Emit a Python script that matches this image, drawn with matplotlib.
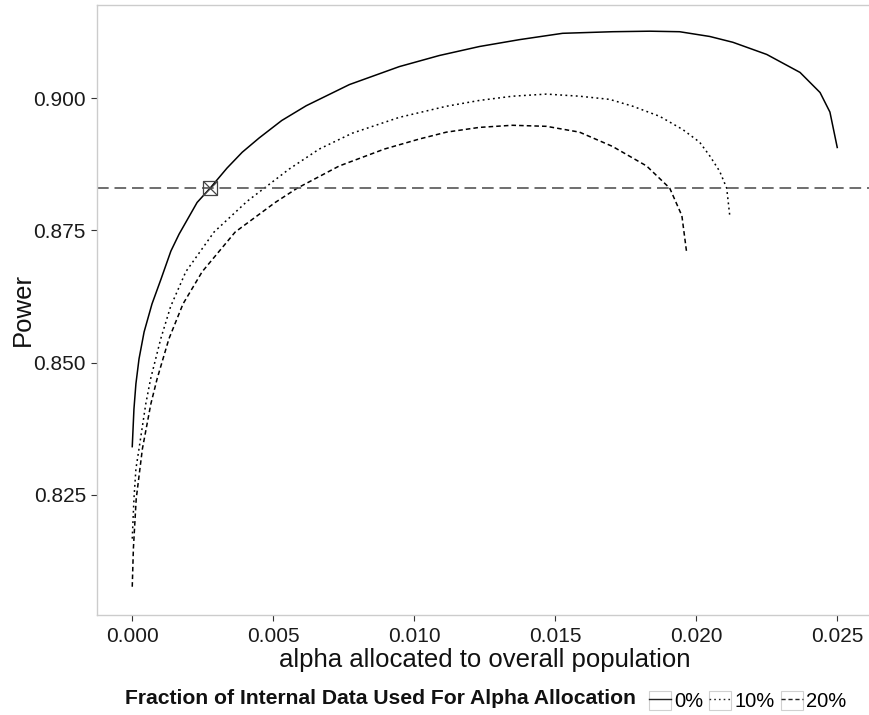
import matplotlib
matplotlib.use("Agg")
import matplotlib.pyplot as plt
from matplotlib.legend_handler import HandlerLine2D
from matplotlib.lines import Line2D
from matplotlib.patches import Rectangle

# data
alpha_0 = [0.0, 0.00006, 0.00013, 0.00024, 0.00042, 0.00070, 0.00102, 0.00137,
           0.00166, 0.00230, 0.00276, 0.00336, 0.00390, 0.00450, 0.00530, 0.00617,
           0.00770, 0.00947, 0.01089, 0.01231, 0.01373, 0.01526, 0.01703, 0.01835,
           0.01941, 0.02048, 0.02130, 0.02250, 0.02368, 0.02439, 0.02474, 0.02500]
power_0 = [0.8341, 0.8412, 0.8460, 0.8507, 0.8558, 0.8611, 0.8658, 0.8711,
           0.8743, 0.8803, 0.8830, 0.8868, 0.8898, 0.8925, 0.8958, 0.8986,
           0.9026, 0.9060, 0.9081, 0.9098, 0.9111, 0.9123, 0.9126, 0.9127,
           0.9126, 0.9117, 0.9106, 0.9083, 0.9049, 0.9011, 0.8974, 0.8907]

alpha_10 = [0.0, 0.00006, 0.00013, 0.00024, 0.00048, 0.00065, 0.00101, 0.00136,
            0.00190, 0.00290, 0.00407, 0.00468, 0.00556, 0.00663, 0.00780, 0.00947,
            0.01114, 0.01231, 0.01348, 0.01469, 0.01586, 0.01693, 0.01775, 0.01870,
            0.01952, 0.02012, 0.02048, 0.02083, 0.02108, 0.02119]
power_10 = [0.8167, 0.8242, 0.8299, 0.8337, 0.8422, 0.8469, 0.8545, 0.8606,
            0.8672, 0.8747, 0.8805, 0.8830, 0.8866, 0.8904, 0.8934, 0.8964,
            0.8985, 0.8996, 0.9004, 0.9008, 0.9004, 0.8998, 0.8985, 0.8966,
            0.8941, 0.8917, 0.8891, 0.8862, 0.8830, 0.8777]

alpha_20 = [0.0, 0.00004, 0.00014, 0.00036, 0.00066, 0.00088, 0.00130, 0.00180,
            0.00248, 0.00365, 0.00507, 0.00585, 0.00734, 0.00894, 0.01018, 0.01114,
            0.01231, 0.01348, 0.01469, 0.01586, 0.01703, 0.01824, 0.01906, 0.01949,
            0.01966]
power_20 = [0.8076, 0.8148, 0.8242, 0.8337, 0.8422, 0.8469, 0.8545, 0.8611,
            0.8672, 0.8747, 0.8803, 0.8830, 0.8872, 0.8904, 0.8923, 0.8936,
            0.8945, 0.8949, 0.8947, 0.8936, 0.8909, 0.8872, 0.8830, 0.8778,
            0.8708]

labels = ["0%", "10%", "20%"]
threshold = 0.8830
marker_alpha = 0.00276
x_ticks = [0.000, 0.005, 0.010, 0.015, 0.020, 0.025]
y_ticks = [0.825, 0.850, 0.875, 0.900]


class BoxedLine(HandlerLine2D):
    # ggplot-like legend key: grey box behind the line sample
    def create_artists(self, legend, orig_handle, xdescent, ydescent, width, height, fontsize, trans):
        arts = super().create_artists(legend, orig_handle, xdescent, ydescent, width, height, fontsize, trans)
        box = Rectangle((-xdescent, -ydescent), width, height, facecolor="white",
                        edgecolor="#d0d0d0", linewidth=0.8, transform=trans)
        return [box] + list(arts)


def main() -> None:
    plt.rcParams["font.family"] = ["Liberation Sans", "DejaVu Sans"]
    fig = plt.figure(figsize=(8.7, 7.15), dpi=100)
    W, H = 870, 715
    ax = fig.add_axes([97 / W, 100 / H, (872.5 - 97) / W, (615 - 4.5) / H])

    styles = ["-", (0, (1.2, 2.2)), (0, (3, 2))]
    series = [(alpha_0, power_0), (alpha_10, power_10), (alpha_20, power_20)]
    handles = []
    for (xs, ys), ls, lab in zip(series, styles, labels):
        ax.plot(xs, ys, color="black", linewidth=1.1, linestyle=ls, label=lab)
        handles.append(Line2D([], [], color="#222222", linewidth=1.0, linestyle=ls))

    ax.axhline(threshold, color="#555555", linewidth=1.2, linestyle=(0, (7, 3.5)))
    ax.plot([marker_alpha], [threshold], marker="s", markersize=10.5,
            markerfacecolor="none", markeredgecolor="#444444", markeredgewidth=0.9)
    ax.plot([marker_alpha], [threshold], marker="x", markersize=10.5,
            markeredgecolor="#444444", markeredgewidth=0.9)

    ax.set_xlim(-0.00125, 0.02625)
    ax.set_ylim(0.80225, 0.91775)
    ax.set_xticks(x_ticks)
    ax.set_xticklabels([f"{v:.3f}" for v in x_ticks])
    ax.set_yticks(y_ticks)
    ax.set_yticklabels([f"{v:.3f}" for v in y_ticks])
    ax.tick_params(direction="out", length=4, width=0.8, color="#333333",
                   labelsize=15, labelcolor="#1a1a1a")
    ax.tick_params(axis="x", pad=5)
    ax.tick_params(axis="y", pad=4)
    for sp in ax.spines.values():
        sp.set_color("#cccccc")
        sp.set_linewidth(1.0)

    ax.set_xlabel("alpha allocated to overall population", fontsize=18.5, color="#111111")
    ax.set_ylabel("Power", fontsize=18.5, color="#111111")
    ax.xaxis.set_label_coords(0.5, -0.054)
    ax.yaxis.set_label_coords(-0.080, 0.5)

    fig.text(125 / W, 1 - 699 / H, "Fraction of Internal Data Used For Alpha Allocation",
             fontsize=15.2, fontweight="bold", ha="left", va="center", color="#111111")
    fig.legend(handles, labels, loc="center left", bbox_to_anchor=(649 / W, 1 - 701 / H),
               ncol=3, frameon=False, fontsize=14.5, handlelength=1.1, handleheight=1.1,
               handletextpad=0.15, columnspacing=0.3, borderpad=0, borderaxespad=0,
               handler_map={Line2D: BoxedLine()})

    fig.savefig("out.png", dpi=100, facecolor="white")
    plt.close(fig)


if __name__ == "__main__":
    main()
